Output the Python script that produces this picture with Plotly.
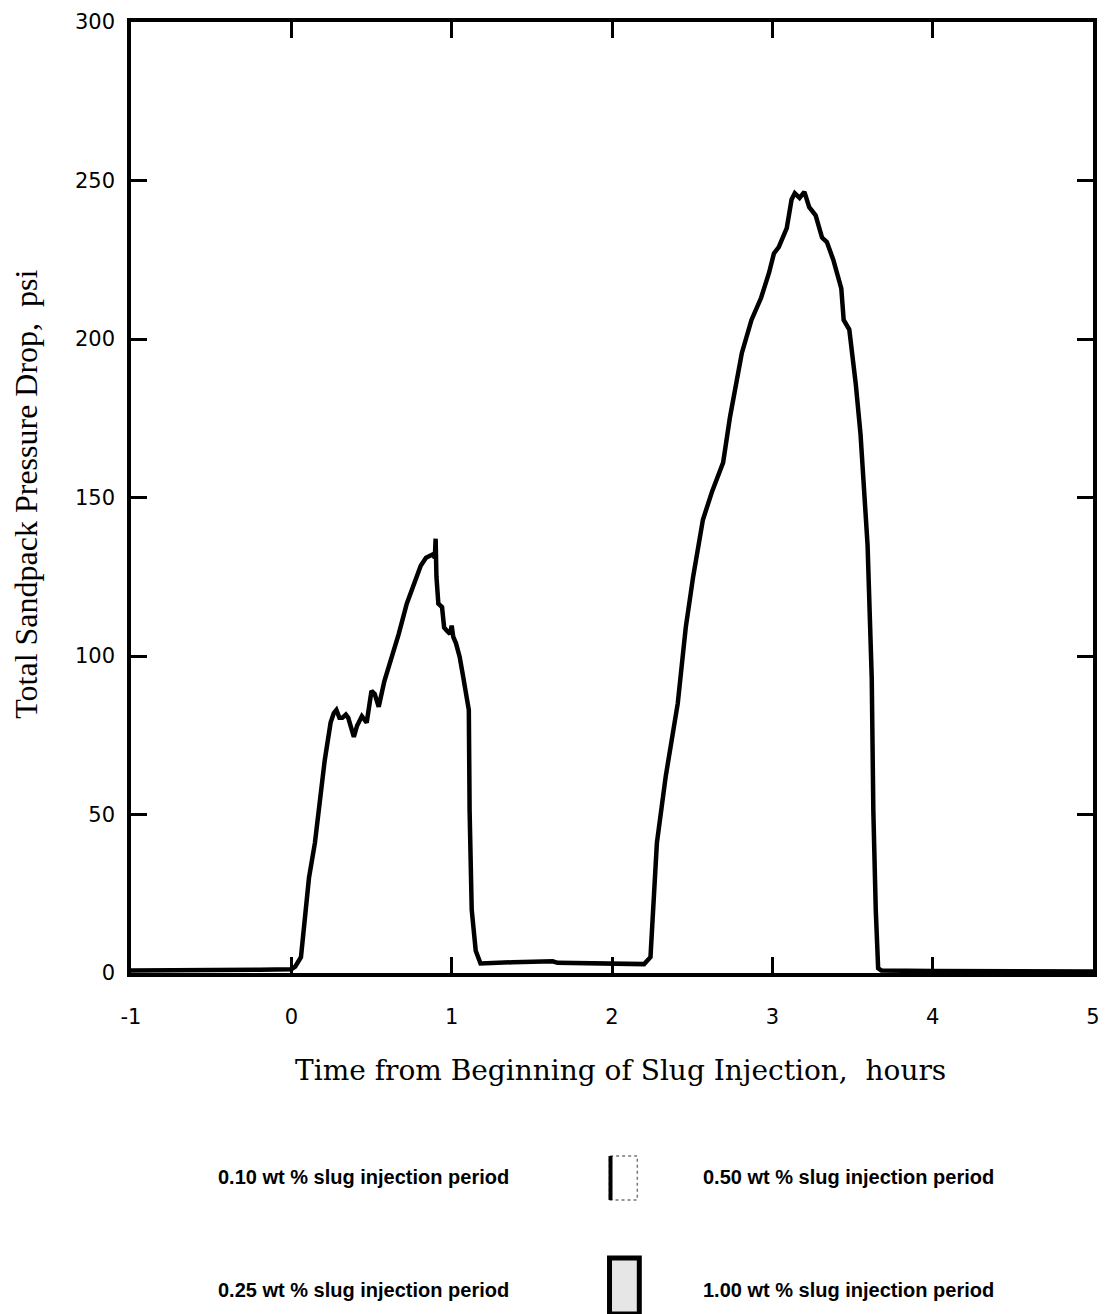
import plotly.graph_objects as go

# ---- data ----
time_h = [-1.0, -0.5, -0.2, 0.0, 0.024, 0.06, 0.086, 0.11, 0.147, 0.17, 0.208, 0.245, 0.265,
          0.281, 0.30, 0.318, 0.34, 0.355, 0.375, 0.39, 0.41, 0.44, 0.47, 0.50, 0.52, 0.545,
          0.58, 0.62, 0.67, 0.72, 0.77, 0.807, 0.84, 0.88, 0.895, 0.90, 0.905, 0.917, 0.94,
          0.953, 0.97, 0.99, 1.0, 1.01, 1.027, 1.05, 1.07, 1.088, 1.107, 1.112, 1.125, 1.15,
          1.18, 1.38, 1.63, 1.66, 1.87, 1.99, 2.1, 2.2, 2.24, 2.255, 2.28, 2.335, 2.41, 2.46,
          2.506, 2.567, 2.625, 2.693, 2.736, 2.81, 2.87, 2.93, 2.98, 3.01, 3.04, 3.09, 3.12,
          3.14, 3.17, 3.20, 3.23, 3.27, 3.31, 3.34, 3.38, 3.43, 3.445, 3.48, 3.52, 3.55, 3.57,
          3.594, 3.62, 3.63, 3.645, 3.66, 3.68, 4.0, 5.0]
dp_psi = [0.8, 0.8, 1.0, 1.2, 2, 5, 20, 30, 41, 51, 67, 79, 82,
          83, 80.5, 80.5, 81.5, 80.5, 77, 74.5, 78, 81, 79, 89, 88, 84,
          92, 98.6, 107, 116.5, 123, 128.5, 131, 132, 131, 137, 125, 116.5, 115.4,
          109, 108, 107, 109.6, 106, 104, 99.7, 94, 88, 83, 51, 20, 7,
          3, 3.4, 3.7, 3.2, 3.0, 3.0, 2.8, 2.8, 5, 20, 41, 62, 85, 109,
          125, 143, 152, 161, 175.4, 195.6, 206, 213, 221, 227, 229, 235, 244,
          246, 244.5, 246.4, 241.6, 239, 232, 230.6, 225, 216, 206, 203, 186, 170, 156,
          135, 93, 51, 20, 1.5, 0.8, 0.6, 0.5]

x_ticks = [-1, 0, 1, 2, 3, 4, 5]
x_ticklabels = ["-1", "0", "1", "2", "3", "4", "5"]
y_ticks = [0, 50, 100, 150, 200, 250, 300]
y_ticklabels = ["0", "50", "100", "150", "200", "250", "300"]

legend_labels = ["0.10 wt % slug injection period", "0.50 wt % slug injection period",
                 "0.25 wt % slug injection period", "1.00 wt % slug injection period"]

x_title = "Time from Beginning of Slug Injection,  hours"
y_title = "Total Sandpack Pressure Drop,  psi"

# ---- layout geometry (pixels) ----
W, H = 1107, 1314
L, R, T, B = 131, 1100, 22, 973


def px(x):
    return (x - L) / (R - L)


def py(y):
    return (B - y) / (B - T)


fig = go.Figure()
fig.add_trace(go.Scatter(x=time_h, y=dp_psi, mode="lines",
                         line=dict(color="black", width=4.5), showlegend=False,
                         hoverinfo="x+y"))

axis_common = dict(showline=True, linecolor="black", linewidth=3.5, mirror="ticks",
                   ticks="inside", ticklen=16, tickwidth=3, tickcolor="black",
                   showgrid=False, zeroline=False,
                   tickfont=dict(family="DejaVu Sans", size=21, color="black"))

fig.update_xaxes(range=[-1, 5], tickvals=x_ticks, ticktext=x_ticklabels,
                 ticklabelstandoff=22, **axis_common)
fig.update_yaxes(range=[0, 300], tickvals=y_ticks, ticktext=y_ticklabels,
                 ticklabelstandoff=8, **axis_common)

annotations = [
    dict(text=x_title, x=px(624), y=py(1070), xref="paper", yref="paper",
         showarrow=False, xanchor="center", yanchor="middle",
         font=dict(family="DejaVu Serif", size=28, color="black")),
    dict(text=y_title, x=px(25), y=py(494), xref="paper", yref="paper",
         showarrow=False, xanchor="center", yanchor="middle", textangle=-90,
         font=dict(family="Liberation Serif", size=32, color="black")),
]

legend_pos = [(217, 1177), (705, 1177), (217, 1290), (705, 1290)]
for lab, (lx, ly) in zip(legend_labels, legend_pos):
    annotations.append(dict(text="<b>" + lab + "</b>", x=px(lx), y=py(ly), xref="paper",
                            yref="paper", showarrow=False, xanchor="left", yanchor="middle",
                            font=dict(family="Liberation Sans", size=20, color="black")))

shapes = [
    # 0.50 wt % swatch: light box with dotted edges and dark left edge
    dict(type="rect", xref="paper", yref="paper", x0=px(613), x1=px(641), y0=py(1200),
         y1=py(1156), fillcolor="white", line=dict(color="#777777", width=1.5, dash="dot")),
    dict(type="line", xref="paper", yref="paper", x0=px(614), x1=px(614), y0=py(1200),
         y1=py(1156), line=dict(color="black", width=4)),
    # 1.00 wt % swatch: dark-bordered box
    dict(type="rect", xref="paper", yref="paper", x0=px(613), x1=px(643), y0=py(1314),
         y1=py(1258), fillcolor="#e6e6e6", line=dict(color="black", width=5)),
]

fig.update_layout(width=W, height=H, margin=dict(l=L, r=W - R, t=T, b=H - B),
                  paper_bgcolor="white", plot_bgcolor="white",
                  annotations=annotations, shapes=shapes, showlegend=False)

fig.write_html("out.html")
